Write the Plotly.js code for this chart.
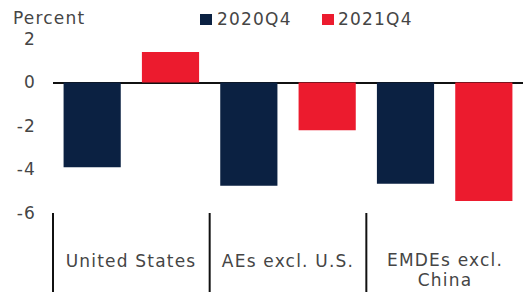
<!DOCTYPE html>
<html>
<head>
<meta charset="utf-8">
<script src="https://cdn.plot.ly/plotly-3.0.1.min.js"></script>
<style>
html,body{margin:0;padding:0;background:#fff;}
#chart{width:523px;height:292px;}
svg text{letter-spacing:1.2px;}
</style>
</head>
<body>
<div id="chart"></div>
<script>
// ---- data ----
const categories = ["United States", "AEs excl. U.S.", "EMDEs excl.<br>China"];
const seriesNames = ["2020Q4", "2021Q4"];
const values2020Q4 = [-3.9, -4.75, -4.65];
const values2021Q4 = [1.4, -2.2, -5.45];
const yTickVals = [2, 0, -2, -4, -6];
const yTickText = ["2", "0", "-2", "-4", "-6"];
const unitLabel = "Percent";

// ---- layout helpers ----
const W = 523, H = 292;
const M = {l: 53, r: 0, t: 39, b: 79};
const PW = W - M.l - M.r, PH = H - M.t - M.b;
const px = x => (x - M.l) / PW;
const py = y => (H - M.b - y) / PH;

const navy = "#0B2142", red = "#EC1B2E";
const txt = "#454545";
const font = "DejaVu Sans, Arial, sans-serif";
const FS = 17;

const traces = [
  {type: "bar", name: seriesNames[0], x: categories, y: values2020Q4, marker: {color: navy}, showlegend: false, hoverinfo: "none"},
  {type: "bar", name: seriesNames[1], x: categories, y: values2021Q4, marker: {color: red}, showlegend: false, hoverinfo: "none"}
];

const annotations = [];
categories.forEach((c, i) => {
  const lines = c.split("<br>");
  const yc = lines.length > 1 ? [260, 280] : [261];
  lines.forEach((ln, j) => {
    annotations.push({
      x: c, xref: "x", y: py(yc[j]), yref: "paper",
      text: ln, showarrow: false, xanchor: "center", yanchor: "middle", borderpad: 0,
      width: 152, height: 18, valign: "middle", align: "center",
      font: {family: font, size: FS, color: txt}
    });
  });
});
annotations.push({x: px(12), xref: "paper", y: py(18), yref: "paper", text: unitLabel,
  showarrow: false, xanchor: "left", yanchor: "middle", borderpad: 0, align: "left",
  font: {family: font, size: FS, color: txt}});
const legendPos = [{sq: 200, tx: 216, color: navy}, {sq: 322, tx: 337, color: red}];
const shapes = [];
legendPos.forEach((p, i) => {
  annotations.push({x: px(p.tx), xref: "paper", y: py(19), yref: "paper", text: seriesNames[i],
    showarrow: false, xanchor: "left", yanchor: "middle", borderpad: 0, align: "left",
    font: {family: font, size: FS, color: txt}});
  shapes.push({type: "rect", xref: "paper", yref: "paper", x0: px(p.sq), x1: px(p.sq + 12),
    y0: py(25), y1: py(14), fillcolor: p.color, line: {width: 0}});
});
[0, 1/3, 2/3].forEach(x => {
  shapes.push({type: "line", xref: "paper", yref: "paper", x0: x, x1: x, y0: py(213), y1: py(292),
    line: {color: "#111", width: 2}});
});

const layout = {
  width: W, height: H,
  margin: M,
  paper_bgcolor: "#fff", plot_bgcolor: "#fff",
  barmode: "group", bargap: 0, bargroupgap: 0.27,
  showlegend: false,
  xaxis: {type: "category", range: [-0.5, 2.5], showticklabels: false, ticks: "", showgrid: false,
    zeroline: false, showline: false, fixedrange: true},
  yaxis: {range: [-6, 2], tickvals: yTickVals, ticktext: yTickText, ticks: "", showgrid: false,
    zeroline: true, zerolinecolor: "#111", zerolinewidth: 2, showline: false,
    ticklabelstandoff: 16, tickfont: {family: font, size: FS, color: txt}, fixedrange: true},
  annotations: annotations,
  shapes: shapes,
  font: {family: font, color: txt}
};

Plotly.newPlot("chart", traces, layout, {displayModeBar: false, staticPlot: true});
</script>
</body>
</html>
